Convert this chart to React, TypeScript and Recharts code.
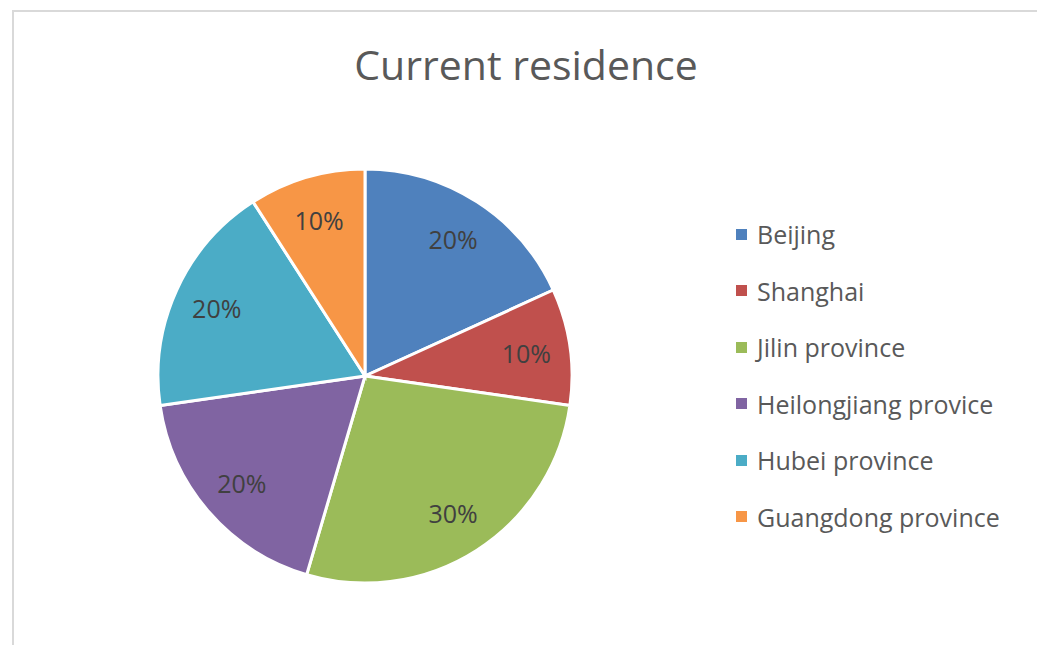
import { PieChart, Pie, Cell, Legend } from "recharts";

const regions = [
  "Beijing",
  "Shanghai",
  "Jilin province",
  "Heilongjiang provice",
  "Hubei province",
  "Guangdong province",
];
const shares = [20, 10, 30, 20, 20, 10];
const colors = ["#4F81BD", "#C0504D", "#9BBB59", "#8064A2", "#4BACC6", "#F79646"];

const data = regions.map((name, i) => ({ name, value: shares[i] }));

const FONT = "'Open Sans', 'Noto Sans', sans-serif";
const RAD = Math.PI / 180;

const renderLabel = (props: any) => {
  const { cx, cy, midAngle, value } = props;
  const r = 163;
  const x = cx + r * Math.cos(-midAngle * RAD);
  const y = cy + r * Math.sin(-midAngle * RAD);
  return (
    <text
      x={x}
      y={y}
      fill="#404040"
      fontSize={25}
      fontFamily={FONT}
      textAnchor="middle"
      dominantBaseline="central"
    >
      {`${value}%`}
    </text>
  );
};

const LegendList = () => (
  <div style={{ fontFamily: FONT, fontSize: 25, color: "#595959" }}>
    {data.map((d, i) => (
      <div
        key={d.name}
        style={{ display: "flex", alignItems: "center", height: 56.5 }}
      >
        <span
          style={{
            width: 11,
            height: 11,
            background: colors[i],
            marginRight: 10,
            display: "inline-block",
          }}
        />
        <span>{d.name}</span>
      </div>
    ))}
  </div>
);

export default function App() {
  return (
    <div
      style={{
        position: "absolute",
        left: 0,
        top: 0,
        width: 1037,
        height: 645,
        background: "#fff",
        overflow: "hidden",
      }}
    >
      <div
        style={{
          position: "absolute",
          left: 12,
          top: 10,
          width: 1100,
          height: 700,
          borderTop: "2px solid #d9d9d9",
          borderLeft: "2px solid #d9d9d9",
        }}
      />
      <div
        style={{
          position: "absolute",
          left: 0,
          top: 36,
          width: 1052,
          textAlign: "center",
          fontFamily: FONT,
          fontSize: 41,
          color: "#595959",
          lineHeight: "56px",
        }}
      >
        Current residence
      </div>
      <div style={{ position: "absolute", left: 0, top: 0 }}>
        <PieChart
          width={1037}
          height={645}
          margin={{ top: 0, right: 0, bottom: 0, left: 0 }}
        >
          <Pie
            data={data}
            dataKey="value"
            nameKey="name"
            cx={365}
            cy={376}
            outerRadius={207}
            startAngle={90}
            endAngle={-270}
            stroke="#fff"
            strokeWidth={3}
            label={renderLabel}
            labelLine={false}
            isAnimationActive={false}
          >
            {data.map((d, i) => (
              <Cell key={d.name} fill={colors[i]} />
            ))}
          </Pie>
          <Legend
            content={<LegendList />}
            wrapperStyle={{ position: "absolute", left: 736, top: 206, width: 300 }}
          />
        </PieChart>
      </div>
    </div>
  );
}
